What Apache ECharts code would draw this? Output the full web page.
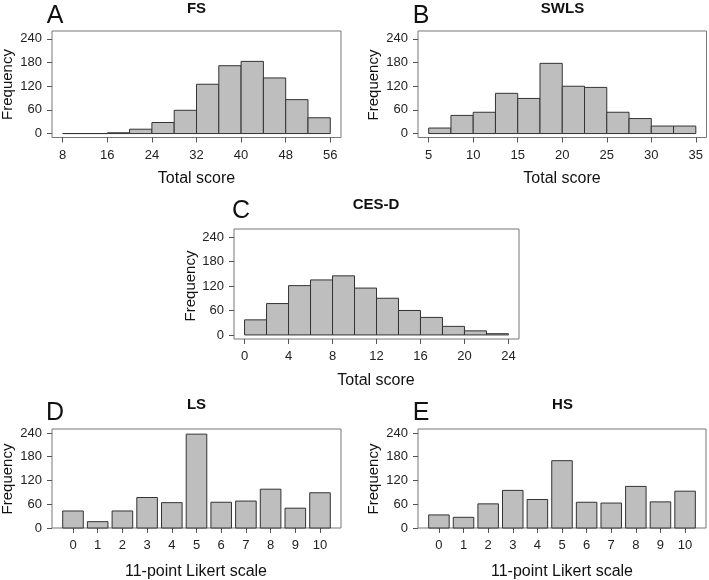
<!DOCTYPE html>
<html>
<head>
<meta charset="utf-8">
<script src="https://cdn.jsdelivr.net/npm/echarts@6/dist/echarts.min.js"></script>
<style>
  html, body { margin: 0; padding: 0; background: #fff; }
  #main { width: 709px; height: 580px; }
</style>
</head>
<body>
<div id="main"></div>
<script>
var myChart = echarts.init(document.getElementById('main'));

// histogram bins (left edge, right edge) and counts
var fsStart = [8, 12, 16, 20, 24, 28, 32, 36, 40, 44, 48, 52];
var fsEnd = [12, 16, 20, 24, 28, 32, 36, 40, 44, 48, 52, 56];
var fsCounts = [0, 0, 2, 11, 28, 59, 125, 172, 183, 141, 86, 40];

var swlsStart = [5, 7.5, 10, 12.5, 15, 17.5, 20, 22.5, 25, 27.5, 30, 32.5];
var swlsEnd = [7.5, 10, 12.5, 15, 17.5, 20, 22.5, 25, 27.5, 30, 32.5, 35];
var swlsCounts = [14, 46, 54, 102, 89, 178, 120, 117, 54, 38, 19, 19];

var cesdStart = [0, 2, 4, 6, 8, 10, 12, 14, 16, 18, 20, 22];
var cesdEnd = [2, 4, 6, 8, 10, 12, 14, 16, 18, 20, 22, 24];
var cesdCounts = [37, 77, 121, 135, 145, 115, 90, 60, 43, 21, 10, 3];

// 11-point Likert scale
var likert = [0, 1, 2, 3, 4, 5, 6, 7, 8, 9, 10];
var lsCounts = [43, 16, 43, 77, 64, 237, 65, 68, 98, 50, 89];
var hsCounts = [33, 27, 61, 95, 72, 170, 65, 63, 105, 66, 93];

// tick labels
var fsTicks = [8, 16, 24, 32, 40, 48, 56];
var swlsTicks = [5, 10, 15, 20, 25, 30, 35];
var cesdTicks = [0, 4, 8, 12, 16, 20, 24];
var freqTicks = [0, 60, 120, 180, 240];

var FONT = 'Liberation Sans, Arial, sans-serif';

function zip3(a, b, c) {
    var out = [];
    for (var i = 0; i < a.length; i++) out.push([a[i], b[i], c[i]]);
    return out;
}

function histItem(params, api) {
    var p0 = api.coord([api.value(0), api.value(2)]);
    var p1 = api.coord([api.value(1), 0]);
    return {
        type: 'rect',
        shape: { x: p0[0], y: p0[1], width: p1[0] - p0[0], height: p1[1] - p0[1] },
        style: { fill: '#bebebe', stroke: '#333', lineWidth: 1 }
    };
}

function likertItem(params, api) {
    var half = 0.5 / 1.2;
    var p0 = api.coord([api.value(0) - half, api.value(1)]);
    var p1 = api.coord([api.value(0) + half, 0]);
    return {
        type: 'rect',
        shape: { x: p0[0], y: p0[1], width: p1[0] - p0[0], height: p1[1] - p0[1] },
        style: { fill: '#bebebe', stroke: '#333', lineWidth: 1 }
    };
}

function xAx(idx, min, max, ticks) {
    return {
        type: 'value', gridIndex: idx, min: min, max: max, position: 'bottom',
        axisLine: { show: false, onZero: false },
        splitLine: { show: false },
        axisTick: { show: true, length: 5, inside: false, customValues: ticks, lineStyle: { color: '#555' } },
        axisLabel: { customValues: ticks, margin: 11, fontSize: 13, color: '#222', fontFamily: FONT }
    };
}

function yAx(idx, min, max) {
    return {
        type: 'value', gridIndex: idx, min: min, max: max, position: 'left',
        axisLine: { show: false, onZero: false },
        splitLine: { show: false },
        axisTick: { show: true, length: 5, customValues: freqTicks, lineStyle: { color: '#555' } },
        axisLabel: { customValues: freqTicks, margin: 10, fontSize: 13, color: '#222', fontFamily: FONT }
    };
}

function txt(x, y, s, size, bold, rot) {
    return {
        type: 'text', x: x, y: y, rotation: rot || 0,
        style: {
            text: s, fontSize: size, fontWeight: bold ? 'bold' : 'normal',
            fontFamily: FONT, fill: '#111', align: 'center', verticalAlign: 'middle'
        }
    };
}

var box = { show: true, borderColor: '#777', borderWidth: 1, backgroundColor: 'transparent' };

var Option = {
    animation: false,
    backgroundColor: '#fff',
    grid: [
        Object.assign({ left: 52, top: 31, width: 289, height: 106.5 }, box),
        Object.assign({ left: 418, top: 31, width: 288.5, height: 106.5 }, box),
        Object.assign({ left: 234, top: 229, width: 285, height: 110 }, box),
        Object.assign({ left: 52, top: 429, width: 289, height: 99 }, box),
        Object.assign({ left: 418, top: 429, width: 288, height: 99 }, box)
    ],
    xAxis: [
        xAx(0, 6.08, 57.92, fsTicks),
        xAx(1, 3.8, 36.2, swlsTicks),
        xAx(2, -0.96, 24.96, cesdTicks),
        xAx(3, -0.85, 10.85, likert),
        xAx(4, -0.85, 10.85, likert)
    ],
    yAxis: [
        yAx(0, -10, 260),
        yAx(1, -10, 260),
        yAx(2, -10, 260),
        yAx(3, 0, 250),
        yAx(4, 0, 250)
    ],
    graphic: [
        txt(55, 16, 'A', 25), txt(421, 16, 'B', 25), txt(241, 211, 'C', 25),
        txt(55, 413, 'D', 25), txt(421, 413, 'E', 25),
        txt(196.5, 9, 'FS', 15, true), txt(562.5, 9, 'SWLS', 15, true),
        txt(376, 205, 'CES-D', 15, true),
        txt(196.5, 405, 'LS', 15, true), txt(562.5, 405, 'HS', 15, true),
        txt(8, 84.5, 'Frequency', 15, false, Math.PI / 2),
        txt(374, 85, 'Frequency', 15, false, Math.PI / 2),
        txt(191, 286, 'Frequency', 15, false, Math.PI / 2),
        txt(8, 479, 'Frequency', 15, false, Math.PI / 2),
        txt(374, 479, 'Frequency', 15, false, Math.PI / 2),
        txt(196.5, 179, 'Total score', 16), txt(562, 179, 'Total score', 16),
        txt(376, 381, 'Total score', 16),
        txt(196, 572, '11-point Likert scale', 16), txt(562, 572, '11-point Likert scale', 16)
    ],
    series: [
        { type: 'custom', xAxisIndex: 0, yAxisIndex: 0, renderItem: histItem,
          encode: { x: [0, 1], y: 2 }, data: zip3(fsStart, fsEnd, fsCounts) },
        { type: 'custom', xAxisIndex: 1, yAxisIndex: 1, renderItem: histItem,
          encode: { x: [0, 1], y: 2 }, data: zip3(swlsStart, swlsEnd, swlsCounts) },
        { type: 'custom', xAxisIndex: 2, yAxisIndex: 2, renderItem: histItem,
          encode: { x: [0, 1], y: 2 }, data: zip3(cesdStart, cesdEnd, cesdCounts) },
        { type: 'custom', xAxisIndex: 3, yAxisIndex: 3, renderItem: likertItem,
          encode: { x: 0, y: 1 }, data: likert.map(function (v, i) { return [v, lsCounts[i]]; }) },
        { type: 'custom', xAxisIndex: 4, yAxisIndex: 4, renderItem: likertItem,
          encode: { x: 0, y: 1 }, data: likert.map(function (v, i) { return [v, hsCounts[i]]; }) }
    ]
};

myChart.setOption(Option);
</script>
</body>
</html>
